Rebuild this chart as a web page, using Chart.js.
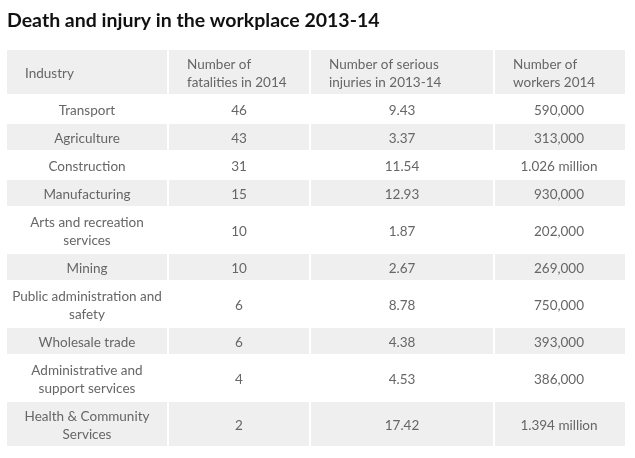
<!DOCTYPE html>
<html>
<head>
<meta charset="utf-8">
<script src="https://cdn.jsdelivr.net/npm/chart.js@4.4.1/dist/chart.umd.min.js"></script>
<style>
  html, body { margin: 0; padding: 0; background: #fff; }
  #wrap { width: 635px; height: 458px; position: relative; }
</style>
</head>
<body>
<div id="wrap"><canvas id="workTable"></canvas></div>
<script>
const headers = ['Industry', 'Number of\nfatalities in 2014', 'Number of serious\ninjuries in 2013-14', 'Number of\nworkers 2014'];
const industries = [
    'Transport',
    'Agriculture',
    'Construction',
    'Manufacturing',
    'Arts and recreation\nservices',
    'Mining',
    'Public administration and\nsafety',
    'Wholesale trade',
    'Administrative and\nsupport services',
    'Health & Community\nServices'
];
const fatalities = [46, 43, 31, 15, 10, 10, 6, 6, 4, 2];
const injuries = [9.43, 3.37, 11.54, 12.93, 1.87, 2.67, 8.78, 4.38, 4.53, 17.42];
const workers = [590000, 313000, 1026000, 930000, 202000, 269000, 750000, 393000, 386000, 1394000];

// layout bits
const colWidths = [162, 142, 184, 130];
const lineH = 18;
const cellPad = 10;
const gap = 2;
const textNudge = 1.5;
const fontFam = 'Lato, "Open Sans", sans-serif';

function fmtWorkers(v) {
    if (v >= 1000000) return (v / 1000000).toFixed(3) + ' million';
    return v.toLocaleString('en-US');
};

function buildRows() {
    let rows = [];
    for (let i = 0; i < industries.length; i++) {
        rows.push([industries[i], String(fatalities[i]), injuries[i].toFixed(2), fmtWorkers(workers[i])]);
    }
    return rows;
};

function rowHeight(cells) {
    let lines = Math.max(...cells.map(c => c.split('\n').length));
    return cellPad + lineH * lines;
};

const bodyRows = buildRows();
const tableW = colWidths.reduce((a, b) => a + b, 0);
const tableH = [headers].concat(bodyRows).reduce((a, r) => a + rowHeight(r), 0);

const tablePlugin = {
    id: 'tablePlugin',
    afterDraw(chart) {
        const c = chart.ctx;
        const x = chart.scales.x;
        const y = chart.scales.y;
        let all = [headers].concat(bodyRows);
        let top = 0;

        c.save();
        c.textBaseline = 'middle';
        all.forEach((cells, r) => {
            let h = rowHeight(cells);
            let bg = (r % 2 === 0) ? '#efefef' : '#ffffff';
            let left = 0;
            cells.forEach((txt, ci) => {
                let x0 = x.getPixelForValue(left);
                let x1 = x.getPixelForValue(left + colWidths[ci]);
                let y0 = y.getPixelForValue(top);
                let y1 = y.getPixelForValue(top + h);
                c.fillStyle = bg;
                c.fillRect(x0, y0, x1 - x0 - (ci < cells.length - 1 ? gap : 0), y1 - y0 - gap);

                let lines = txt.split('\n');
                let mid = (y0 + y1 - gap) / 2 + textNudge;
                c.fillStyle = '#666666';
                c.font = '13.5px ' + fontFam;
                lines.forEach((ln, k) => {
                    let ly = mid + (k - (lines.length - 1) / 2) * lineH;
                    if (r === 0) {
                        c.textAlign = 'left';
                        c.fillText(ln, x0 + 18, ly);
                    } else {
                        c.textAlign = 'center';
                        c.fillText(ln, (x0 + x1 - gap) / 2, ly);
                    }
                });
                left += colWidths[ci];
            });
            top += h;
        });
        c.restore();
    }
};

new Chart(document.getElementById('workTable'), {
    type: 'scatter',
    data: {
        datasets: [{ data: [] }]
    },
    options: {
        responsive: true,
        maintainAspectRatio: false,
        animation: false,
        layout: {
            padding: { left: 7, right: 10, top: 0, bottom: 10 }
        },
        scales: {
            x: { type: 'linear', min: 0, max: tableW, display: false },
            y: { type: 'linear', min: 0, max: tableH, reverse: true, display: false }
        },
        plugins: {
            legend: { display: false },
            tooltip: { enabled: false },
            title: {
                display: true,
                text: 'Death and injury in the workplace 2013-14',
                align: 'start',
                color: '#111111',
                font: { family: fontFam, size: 19.5, weight: 'bold' },
                padding: { top: 8.6, bottom: 18 }
            }
        }
    },
    plugins: [tablePlugin]
});
</script>
</body>
</html>
